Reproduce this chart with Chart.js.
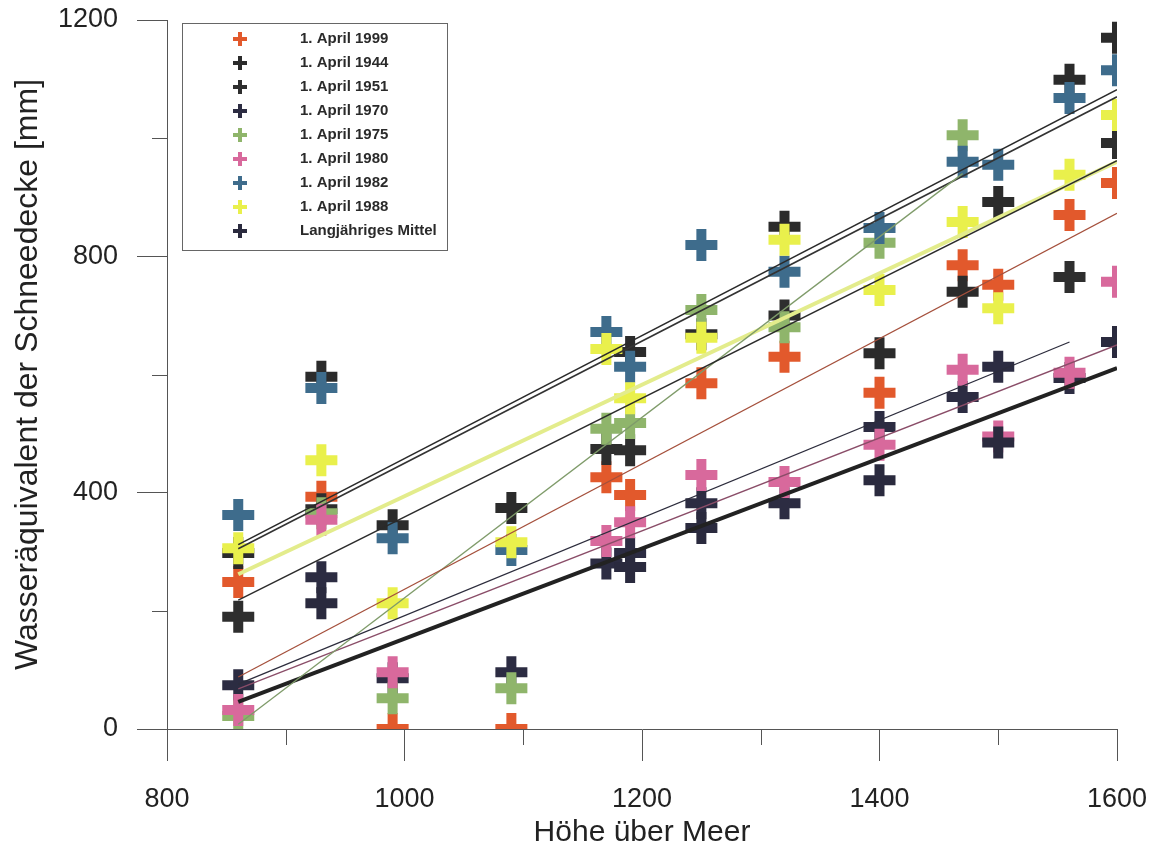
<!DOCTYPE html>
<html>
<head>
<meta charset="utf-8">
<script src="https://cdn.jsdelivr.net/npm/chart.js@4"></script>
<style>
  html, body { margin: 0; padding: 0; background: #fff; overflow: hidden; }
  #wrap { width: 1151px; height: 848px; overflow: hidden; position: relative; }
  #chart { position: absolute; left: 0; top: -6px; }
</style>
</head>
<body>
<div id="wrap"><canvas id="chart" width="1151" height="854"></canvas></div>
<script>
// Stations (Höhe über Meer)
const hoehe = [860, 930, 990, 1090, 1170, 1190, 1250, 1320, 1400, 1470, 1500, 1560, 1600];

// Wasseräquivalent [mm] per date, null = no value
const april1999 = [249, 393, 0, 0, 426, 396, 585, 630, 569, 785, 752, 870, 924];
const april1944 = [298, 596, 345, 374, null, 638, 668, 850, 636, 740, 892, 1099, 1170];
const april1951 = [190, 372, null, null, 474, 472, null, 700, null, null, null, 765, 992];
const april1970 = [74, 257, 86, 96, 280, 298, 382, 382, 511, 562, 613, 594, null];
const april1975 = [22, 365, 52, 69, 508, 518, 709, 680, 823, 1005, null, null, null];
const april1980 = [32, 354, 96, null, 318, 350, 430, 418, 481, 608, 495, 603, 757];
const april1982 = [362, 577, 323, 303, 672, 613, 819, 774, 848, 960, 955, 1068, 1115];
const april1988 = [306, 455, 213, 316, 643, 560, 662, 828, 743, 858, 712, 938, 1039];
const mittel    = [null, 213, null, null, null, 274, 340, null, 421, null, 485, null, 655];

// Trend lines (value at start / end of range)
const trendX     = [860, 1600];
const trendX1970 = [860, 1560];
const trendX1975 = [860, 1470];
const trend1999 = [88, 873];
const trend1944 = [312, 1082];
const trend1951 = [218, 962];
const trend1970 = [76, 655];
const trend1975 = [8, 940];
const trend1980 = [68, 650];
const trend1982 = [305, 1070];
const trend1988 = [262, 960];
const trendMittel = [46, 611];

// Axis labels
const xTickLabels = [800, 1000, 1200, 1400, 1600];
const yTickLabels = [0, 400, 800, 1200];
const xMinorTicks = [900, 1100, 1300, 1500];
const yMinorTicks = [200, 600, 1000];

const series = [
  { label: '1. April 1999', data: april1999, color: '#e2592c', trend: trend1999, tx: trendX, lineColor: '#a5503c', lineWidth: 1.3 },
  { label: '1. April 1944', data: april1944, color: '#2b2b2b', trend: trend1944, tx: trendX, lineColor: '#2a2a2a', lineWidth: 1.6 },
  { label: '1. April 1951', data: april1951, color: '#2e2e2e', trend: trend1951, tx: trendX, lineColor: '#2a2a2a', lineWidth: 1.5 },
  { label: '1. April 1970', data: april1970, color: '#2c2c42', trend: trend1970, tx: trendX1970, lineColor: '#2c2c3c', lineWidth: 1.3 },
  { label: '1. April 1975', data: april1975, color: '#8fb56b', trend: trend1975, tx: trendX1975, lineColor: '#7f9b6a', lineWidth: 1.3 },
  { label: '1. April 1980', data: april1980, color: '#d8699c', trend: trend1980, tx: trendX, lineColor: '#8a4d68', lineWidth: 1.3 },
  { label: '1. April 1982', data: april1982, color: '#3e6c8c', trend: trend1982, tx: trendX, lineColor: '#333333', lineWidth: 1.6 },
  { label: '1. April 1988', data: april1988, color: '#e9f04c', trend: trend1988, tx: trendX, lineColor: '#e3ec8c', lineWidth: 4 },
  { label: 'Langjähriges Mittel', data: mittel, color: '#2a2a3e', trend: trendMittel, tx: trendX, lineColor: '#222222', lineWidth: 4 }
];

const datasets = [];
series.forEach((s, i) => {
  datasets.push({
    type: 'line',
    label: s.label + ' trend',
    data: s.tx.map((x, k) => ({ x: x, y: s.trend[k] })),
    borderColor: s.lineColor,
    borderWidth: s.lineWidth,
    pointRadius: 0,
    fill: false,
    order: 0
  });
  datasets.push({
    type: 'scatter',
    label: s.label,
    data: hoehe.map((x, k) => ({ x: x, y: s.data[k] })).filter(p => p.y !== null),
    pointStyle: 'cross',
    pointRadius: 16,
    pointHoverRadius: 16,
    borderWidth: 10,
    borderColor: s.color,
    backgroundColor: s.color,
    order: 20 - i
  });
});

// Minor ticks (shorter) drawn through the scales
const minorTicks = {
  id: 'minorTicks',
  afterDraw(chart) {
    const ctx = chart.ctx;
    const xs = chart.scales.x, ys = chart.scales.y;
    ctx.save();
    ctx.strokeStyle = '#555';
    ctx.lineWidth = 1;
    ctx.beginPath();
    xMinorTicks.forEach(v => {
      const px = Math.round(xs.getPixelForValue(v)) + 0.5;
      ctx.moveTo(px, ys.bottom);
      ctx.lineTo(px, ys.bottom + 16);
    });
    yMinorTicks.forEach(v => {
      const py = Math.round(ys.getPixelForValue(v)) + 0.5;
      ctx.moveTo(xs.left - 15, py);
      ctx.lineTo(xs.left, py);
    });
    ctx.stroke();
    ctx.restore();
  }
};

// Legend box inside the plot area (anchored to the top of the y axis)
const boxLegend = {
  id: 'boxLegend',
  afterDraw(chart) {
    const ctx = chart.ctx;
    const top = chart.chartArea.top;
    const x0 = 182.5, y0 = Math.round(top) + 3.5, w = 265, h = 227;
    ctx.save();
    ctx.fillStyle = '#fff';
    ctx.fillRect(x0, y0, w, h);
    ctx.strokeStyle = '#666';
    ctx.lineWidth = 1;
    ctx.strokeRect(x0, y0, w, h);
    ctx.font = 'bold 15px "Liberation Sans", Arial, sans-serif';
    ctx.textBaseline = 'middle';
    series.forEach((s, i) => {
      const cy = y0 + 15.5 + i * 24;
      const cx = 240;
      ctx.strokeStyle = s.color;
      ctx.lineWidth = 4;
      ctx.beginPath();
      ctx.moveTo(cx - 7, cy);
      ctx.lineTo(cx + 7, cy);
      ctx.moveTo(cx, cy - 7);
      ctx.lineTo(cx, cy + 7);
      ctx.stroke();
      ctx.fillStyle = '#2a2a2a';
      ctx.fillText(s.label, 300, cy);
    });
    ctx.restore();
  }
};

const fontFamily = '"Liberation Sans", Arial, sans-serif';
const tickFont = { family: fontFamily, size: 27 };
const tickColorFn = labels => c => (c.tick && labels.includes(c.tick.value)) ? '#555' : 'rgba(0,0,0,0)';

new Chart(document.getElementById('chart'), {
  type: 'scatter',
  data: { datasets: datasets },
  options: {
    responsive: false,
    animation: false,
    layout: { padding: { top: 14, right: 34, left: 0, bottom: 0 } },
    plugins: { legend: { display: false }, tooltip: { enabled: false } },
    scales: {
      x: {
        type: 'linear',
        min: 800, max: 1600,
        afterFit: s => { s.height = 119; s.paddingLeft = 0; s.paddingRight = 0; },
        ticks: {
          stepSize: 100, autoSkip: false, maxRotation: 0,
          font: tickFont, color: '#222', padding: 22,
          callback: v => xTickLabels.includes(v) ? String(v) : ''
        },
        grid: { drawOnChartArea: false, tickLength: 32, tickColor: tickColorFn(xTickLabels), tickWidth: 1 },
        border: { display: true, color: '#555', width: 1 },
        title: {
          display: true, text: 'Höhe über Meer', color: '#222',
          font: { family: fontFamily, size: 30, lineHeight: 1 },
          padding: { top: 0, bottom: 0 }
        }
      },
      y: {
        type: 'linear',
        min: 0, max: 1200,
        afterFit: s => { s.width = 167; s.paddingTop = 0; s.paddingBottom = 0; },
        ticks: {
          stepSize: 200, autoSkip: false,
          font: tickFont, color: '#222', padding: 19,
          callback: v => yTickLabels.includes(v) ? String(v) : ''
        },
        grid: { drawOnChartArea: false, tickLength: 30, tickColor: tickColorFn(yTickLabels), tickWidth: 1 },
        border: { display: true, color: '#555', width: 1 },
        title: {
          display: true, text: 'Wasseräquivalent der Schneedecke [mm]', color: '#222',
          font: { family: fontFamily, size: 32, lineHeight: 1 },
          padding: { top: 12, bottom: 0 }
        }
      }
    }
  },
  plugins: [minorTicks, boxLegend]
});
</script>
</body>
</html>
